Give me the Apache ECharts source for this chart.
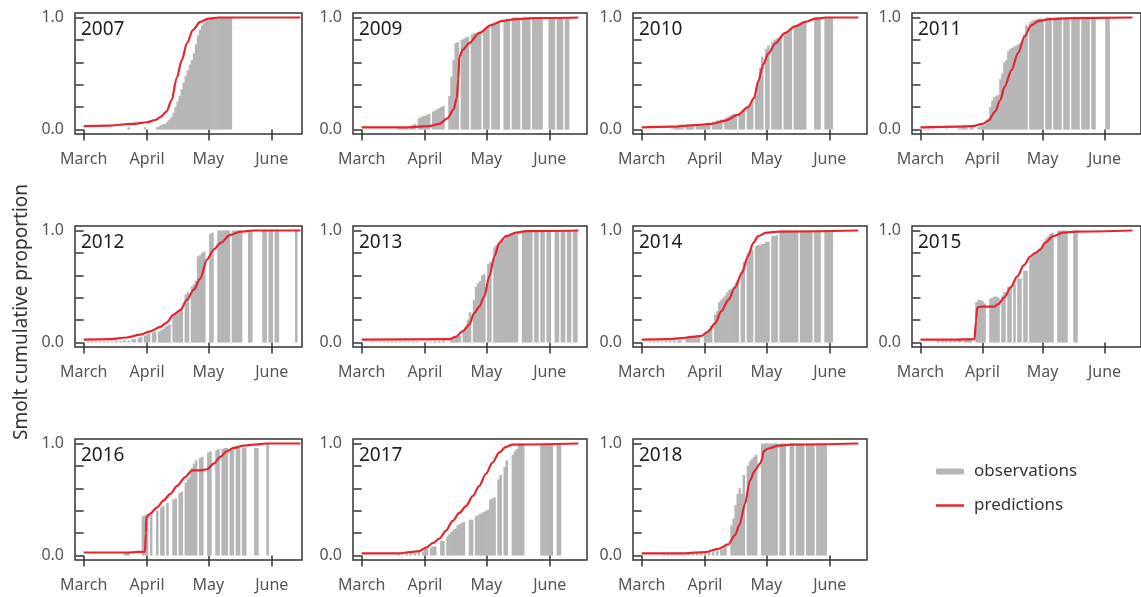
<!DOCTYPE html>
<html>
<head>
<meta charset="utf-8">
<title>Smolt cumulative proportion</title>
<script src="https://cdn.jsdelivr.net/npm/echarts@6.0.0/dist/echarts.min.js"></script>
<style>
  html, body { margin: 0; padding: 0; background: #fff; }
  #container { width: 1141px; height: 597px; }
</style>
</head>
<body>
<div id="container"></div>
<script>
  // x = days counted from 1 March (31 = 1 April, 61 = 1 May, 92 = 1 June)
  var monthDays = [0, 31, 61, 92];
  var monthLabels = ['March', 'April', 'May', 'June'];
  var yTicks = [0, 0.2, 0.4, 0.6, 0.8, 1];
  var yLabelValues = [0, 1];
  var years = [2007, 2009, 2010, 2011, 2012, 2013, 2014, 2015, 2016, 2017, 2018];

  // observations: [day, cumulative proportion]
  var obs2007 = [[22,0.02],[30,0.02],[36,0.02],[37,0.03],[38,0.04],[39,0.05],[40,0.05],[41,0.07],[42,0.09],[43,0.11],[44,0.15],[45,0.2],[46,0.25],[47,0.3],[48,0.36],[49,0.42],[50,0.48],[51,0.53],[52,0.58],[53,0.62],[54,0.68],[55,0.76],[56,0.84],[57,0.89],[58,0.93],[59,0.95],[60,0.97],[61,0.98],[62,0.99],[63,1],[64,1],[65,1],[66,1],[67,1],[68,1],[69,1],[70,1],[71,1],[72,1]];
  var obs2009 = [[18,0.01],[19,0.01],[20,0.015],[21,0.02],[22,0.02],[24,0.03],[25,0.04],[26,0.05],[28,0.1],[29,0.11],[30,0.12],[31,0.12],[32,0.13],[33,0.14],[35,0.16],[36,0.17],[37,0.18],[38,0.19],[39,0.2],[40,0.21],[43,0.3],[44,0.47],[45,0.62],[46,0.77],[47,0.78],[49,0.8],[50,0.81],[51,0.82],[52,0.83],[54,0.85],[55,0.86],[56,0.86],[57,0.87],[58,0.88],[60,0.9],[61,0.91],[62,0.92],[64,0.93],[65,0.94],[66,0.94],[67,0.95],[70,0.98],[71,0.99],[72,0.99],[74,1],[75,1],[76,1],[77,1],[79,1],[80,1],[81,1],[82,1],[84,1],[85,1],[86,1],[87,1],[88,1],[92,1],[93,1],[94,1],[96,1],[97,1],[98,1],[100,1],[101,1]];
  var obs2010 = [[15,0.01],[16,0.01],[17,0.02],[18,0.02],[19,0.02],[20,0.02],[22,0.03],[23,0.03],[24,0.03],[25,0.04],[27,0.04],[28,0.05],[29,0.05],[30,0.05],[31,0.05],[32,0.06],[33,0.06],[35,0.07],[36,0.07],[37,0.08],[38,0.08],[39,0.09],[41,0.1],[42,0.11],[43,0.12],[44,0.13],[45,0.14],[46,0.14],[48,0.15],[49,0.16],[50,0.17],[52,0.2],[53,0.22],[54,0.25],[56,0.3],[57,0.42],[58,0.55],[59,0.65],[61,0.72],[62,0.75],[64,0.78],[65,0.8],[66,0.81],[67,0.82],[68,0.83],[70,0.85],[71,0.87],[72,0.88],[73,0.9],[75,0.92],[76,0.93],[77,0.94],[78,0.95],[79,0.96],[80,0.96],[85,1],[86,1],[87,1],[90,1],[91,1],[92,1],[93,1]];
  var obs2011 = [[0,0.01],[2,0.01],[4,0.01],[6,0.01],[13,0.01],[19,0.01],[20,0.01],[21,0.02],[22,0.02],[23,0.02],[25,0.02],[26,0.02],[29,0.02],[30,0.03],[31,0.03],[32,0.04],[33,0.06],[34,0.1],[35,0.2],[36,0.26],[37,0.29],[38,0.3],[39,0.31],[40,0.45],[41,0.5],[42,0.6],[43,0.62],[44,0.7],[45,0.72],[46,0.73],[47,0.74],[48,0.75],[49,0.76],[50,0.77],[51,0.78],[52,0.85],[53,0.93],[55,0.96],[56,0.97],[57,0.98],[58,0.98],[59,0.99],[60,0.99],[61,0.99],[63,1],[64,1],[65,1],[67,1],[68,1],[69,1],[70,1],[72,1],[73,1],[74,1],[76,1],[77,1],[78,1],[79,1],[81,1],[82,1],[83,1],[84,1],[86,1],[87,1],[93,1],[94,1]];
  var obs2012 = [[2,0.01],[4,0.01],[6,0.01],[8,0.01],[10,0.01],[12,0.01],[14,0.01],[16,0.015],[18,0.015],[20,0.02],[22,0.02],[24,0.03],[25,0.03],[27,0.04],[28,0.05],[30,0.06],[31,0.07],[32,0.08],[34,0.09],[35,0.1],[37,0.1],[38,0.11],[39,0.12],[40,0.14],[41,0.15],[42,0.16],[44,0.25],[45,0.26],[46,0.27],[47,0.3],[48,0.31],[50,0.43],[51,0.45],[53,0.5],[54,0.52],[55,0.55],[56,0.77],[57,0.78],[58,0.8],[59,0.81],[62,0.97],[63,0.98],[66,1],[67,1],[68,1],[69,1],[70,1],[71,1],[73,1],[74,1],[75,1],[76,1],[77,1],[81,1],[82,1],[88,1],[89,1],[91,1],[92,1],[94,1],[95,1],[104,1]];
  var obs2013 = [[5,0.01],[7,0.01],[9,0.01],[11,0.01],[13,0.01],[15,0.01],[17,0.01],[19,0.01],[21,0.01],[23,0.01],[25,0.01],[27,0.01],[32,0.01],[34,0.01],[36,0.015],[38,0.015],[40,0.02],[44,0.03],[45,0.03],[46,0.04],[47,0.05],[48,0.06],[50,0.1],[51,0.14],[52,0.2],[53,0.27],[55,0.38],[56,0.5],[57,0.53],[58,0.55],[59,0.6],[60,0.61],[62,0.7],[63,0.72],[65,0.85],[66,0.87],[67,0.88],[68,0.9],[69,0.91],[70,0.92],[71,0.95],[72,0.95],[73,0.96],[74,0.96],[75,0.97],[76,0.97],[79,1],[80,1],[81,1],[82,1],[83,1],[85,1],[86,1],[88,1],[89,1],[91,1],[92,1],[95,1],[96,1],[98,1],[99,1],[101,1],[102,1],[104,1],[105,1]];
  var obs2014 = [[4,0.01],[6,0.01],[8,0.01],[10,0.01],[12,0.015],[14,0.015],[16,0.02],[18,0.02],[19,0.02],[22,0.05],[23,0.05],[24,0.05],[25,0.06],[26,0.06],[27,0.06],[28,0.06],[31,0.08],[32,0.1],[33,0.12],[34,0.15],[36,0.25],[37,0.28],[38,0.36],[39,0.38],[40,0.4],[41,0.42],[42,0.45],[43,0.47],[44,0.48],[45,0.5],[46,0.53],[47,0.55],[49,0.65],[50,0.72],[52,0.8],[53,0.82],[54,0.83],[56,0.86],[57,0.87],[58,0.87],[59,0.88],[60,0.88],[61,0.9],[62,0.9],[64,0.95],[65,0.95],[66,0.96],[68,1],[69,1],[70,1],[71,1],[72,1],[73,1],[74,1],[75,1],[76,1],[78,1],[79,1],[80,1],[81,1],[82,1],[83,1],[85,1],[86,1],[87,1],[90,1],[91,1],[92,1],[93,1]];
  var obs2015 = [[9,0.02],[11,0.02],[13,0.02],[15,0.02],[17,0.02],[19,0.03],[20,0.03],[22,0.03],[23,0.04],[24,0.04],[25,0.04],[28,0.36],[29,0.38],[30,0.38],[31,0.37],[32,0.35],[35,0.39],[36,0.4],[37,0.41],[38,0.41],[39,0.4],[41,0.42],[42,0.45],[44,0.5],[45,0.5],[47,0.52],[49,0.57],[50,0.57],[52,0.64],[53,0.64],[55,0.75],[56,0.77],[57,0.79],[58,0.8],[59,0.82],[60,0.84],[61,0.86],[62,0.9],[63,0.93],[64,0.95],[65,0.97],[66,0.98],[69,1],[70,1],[71,1],[72,1],[73,1],[77,1],[78,1]];
  var obs2016 = [[20,0.02],[21,0.03],[22,0.03],[29,0.35],[30,0.36],[31,0.37],[33,0.38],[36,0.4],[38,0.43],[39,0.44],[41,0.47],[44,0.5],[45,0.51],[47,0.56],[48,0.57],[50,0.65],[51,0.68],[52,0.7],[53,0.78],[54,0.82],[55,0.85],[57,0.87],[58,0.88],[61,0.92],[62,0.93],[65,0.94],[66,0.95],[68,0.95],[69,0.96],[70,0.96],[72,0.95],[73,0.95],[75,0.96],[76,0.96],[78,0.96],[79,0.96],[84,0.96],[85,0.96],[90,1]];
  var obs2017 = [[18,0.01],[20,0.01],[22,0.02],[24,0.02],[26,0.02],[28,0.03],[30,0.03],[31,0.06],[32,0.06],[34,0.07],[35,0.08],[36,0.08],[39,0.13],[40,0.13],[42,0.17],[43,0.19],[44,0.21],[45,0.23],[46,0.24],[47,0.27],[48,0.28],[49,0.29],[50,0.3],[53,0.32],[54,0.32],[56,0.35],[57,0.36],[58,0.37],[59,0.38],[60,0.39],[61,0.4],[62,0.41],[63,0.5],[64,0.51],[65,0.52],[67,0.68],[68,0.72],[70,0.79],[71,0.85],[74,0.9],[75,0.93],[76,0.95],[77,1],[78,1],[79,1],[88,1],[89,1],[90,1],[91,1],[92,1],[93,1],[96,1],[97,1]];
  var obs2018 = [[11,0.01],[13,0.01],[15,0.01],[17,0.01],[19,0.01],[21,0.01],[23,0.02],[25,0.02],[27,0.02],[29,0.02],[31,0.02],[33,0.03],[35,0.03],[37,0.04],[39,0.05],[40,0.06],[41,0.08],[44,0.27],[45,0.33],[46,0.45],[47,0.55],[48,0.6],[49,0.55],[50,0.72],[52,0.8],[53,0.84],[54,0.86],[55,0.88],[56,0.9],[59,1],[60,1],[61,1],[62,1],[63,1],[64,1],[65,1],[66,1],[68,1],[69,1],[70,1],[73,1],[74,1],[76,1],[77,1],[78,1],[79,1],[81,1],[82,1],[83,1],[84,1],[86,1],[87,1],[88,1],[89,1],[90,1]];

  // predictions: [day, cumulative proportion]
  var pred2007 = [[0,0.03],[12,0.035],[24,0.05],[31,0.065],[35,0.085],[37.5,0.11],[40.5,0.16],[43,0.26],[45.5,0.46],[48,0.62],[50.5,0.77],[53.5,0.89],[57,0.96],[61,0.99],[66,1],[106,1]];
  var pred2009 = [[0,0.02],[23,0.02],[33,0.03],[38,0.05],[42,0.1],[45,0.18],[46.5,0.28],[47.3,0.45],[47.8,0.65],[49.4,0.71],[52.5,0.77],[57.5,0.86],[63,0.93],[69,0.97],[75.5,0.985],[84,0.995],[106,1]];
  var pred2010 = [[0,0.02],[15,0.025],[26,0.04],[34,0.05],[41,0.08],[47,0.13],[52,0.2],[55,0.28],[57,0.43],[59.5,0.58],[62,0.68],[65.5,0.77],[70,0.86],[75,0.92],[80,0.96],[85,0.99],[90,1],[106,1]];
  var pred2011 = [[0,0.02],[19,0.025],[26,0.03],[31,0.05],[34,0.08],[37.3,0.16],[39.8,0.26],[42,0.38],[45.5,0.53],[48.7,0.68],[52,0.83],[55.3,0.93],[59.3,0.97],[65,0.985],[75,0.995],[106,1]];
  var pred2012 = [[0,0.025],[13,0.03],[21,0.045],[27.7,0.07],[32.6,0.1],[37.5,0.14],[40.7,0.18],[44,0.25],[47.3,0.29],[50.5,0.38],[53.8,0.47],[57,0.57],[60.3,0.74],[63.6,0.83],[67,0.89],[71.7,0.96],[76.6,0.99],[83,1],[106,1]];
  var pred2013 = [[0,0.025],[43,0.03],[46,0.05],[49.4,0.1],[52.6,0.16],[55,0.26],[57.5,0.32],[60,0.41],[62.4,0.59],[65,0.77],[67.3,0.89],[70.6,0.95],[75.5,0.98],[80.4,0.995],[106,1]];
  var pred2014 = [[0,0.025],[13,0.03],[19.6,0.04],[24.4,0.05],[29.3,0.06],[32.6,0.1],[35.9,0.17],[39,0.28],[42.4,0.38],[45.6,0.49],[49,0.62],[52,0.77],[54.6,0.89],[57,0.95],[61,0.98],[66.8,0.99],[106,1]];
  var pred2015 = [[0,0.025],[16,0.025],[27,0.03],[27.8,0.2],[28.3,0.31],[30,0.32],[37,0.32],[38.6,0.34],[41.9,0.4],[45,0.49],[48.4,0.59],[51.7,0.69],[55,0.77],[57.4,0.8],[59.8,0.83],[62.3,0.89],[66.3,0.95],[71.2,0.98],[77.8,0.99],[106,1]];
  var pred2016 = [[0,0.027],[21,0.027],[30,0.035],[30.4,0.2],[30.7,0.34],[32.6,0.375],[35.9,0.43],[39,0.49],[42.4,0.55],[45.6,0.62],[49.7,0.7],[53,0.76],[57,0.76],[60.3,0.77],[63.6,0.82],[66.8,0.88],[70,0.93],[73.3,0.96],[78.2,0.98],[83,0.99],[89.6,1],[106,1]];
  var pred2017 = [[0,0.02],[18.4,0.02],[23.3,0.03],[28.2,0.04],[31.5,0.07],[34.7,0.11],[38,0.15],[41.2,0.22],[44.5,0.31],[47.8,0.38],[51,0.44],[54.3,0.53],[57.5,0.62],[60.8,0.73],[64,0.83],[67.3,0.92],[70.6,0.97],[73.8,0.99],[106,1]];
  var pred2018 = [[0,0.02],[21,0.02],[31,0.03],[37.5,0.06],[42.4,0.1],[45.6,0.18],[48,0.28],[50.5,0.46],[53,0.67],[55.4,0.76],[57.9,0.82],[59,0.86],[59.5,0.93],[62,0.955],[66.8,0.98],[73.3,0.99],[106,1]];

  var obsByYear = {2007: obs2007, 2009: obs2009, 2010: obs2010, 2011: obs2011, 2012: obs2012, 2013: obs2013,
                   2014: obs2014, 2015: obs2015, 2016: obs2016, 2017: obs2017, 2018: obs2018};
  var predByYear = {2007: pred2007, 2009: pred2009, 2010: pred2010, 2011: pred2011, 2012: pred2012, 2013: pred2013,
                    2014: pred2014, 2015: pred2015, 2016: pred2016, 2017: pred2017, 2018: pred2018};

  var dom = document.getElementById("container");
  var myChart = echarts.init(dom);
  var FONT = "'Noto Sans', 'DejaVu Sans', sans-serif";

  // panel layout (px)
  var colLeft = [75, 353, 633, 912];
  var rowTop = [13, 226, 439];
  var panelW = 234, panelH = 121;

  var grid = [], xAxis = [], yAxis = [], series = [], title = [];

  years.forEach(function (yr, i) {
      var col = i % 4, row = Math.floor(i / 4);
      // first column is cropped on the right in the original figure
      var w = col === 0 ? 227 : panelW;
      grid.push({
          left: colLeft[col], top: rowTop[row], width: w, height: panelH,
          show: true, borderColor: '#333', borderWidth: 1.5, backgroundColor: 'transparent'
      });
      xAxis.push({
          gridIndex: i, type: 'value',
          min: -4.24, max: col === 0 ? 106.8 : 110.24,
          axisLine: { show: false },
          splitLine: { show: false },
          axisTick: { customValues: monthDays, length: 11, lineStyle: { color: '#333', width: 1.5 } },
          axisLabel: {
              customValues: monthDays, margin: 17, fontSize: 16, color: '#555', fontFamily: FONT,
              formatter: function (v) { return monthLabels[monthDays.indexOf(v)]; }
          }
      });
      yAxis.push({
          gridIndex: i, type: 'value', min: -0.04, max: 1.04,
          axisLine: { show: false },
          splitLine: { show: false },
          axisTick: { customValues: yTicks, length: 8, lineStyle: { color: '#333', width: 1.5 } },
          axisLabel: {
              customValues: yLabelValues, margin: 11, fontSize: 16, color: '#555', fontFamily: FONT,
              formatter: function (v) { return v.toFixed(1); }
          }
      });
      title.push({
          text: String(yr), left: colLeft[col] + 6, top: rowTop[row] + 7, padding: 0,
          textStyle: { fontSize: 19, fontWeight: 'normal', color: '#1e1e1e', fontFamily: FONT }
      });
      series.push({
          name: 'observations', type: 'bar', xAxisIndex: i, yAxisIndex: i,
          barWidth: 2.6, data: obsByYear[yr],
          itemStyle: { color: '#b5b5b5' },
          silent: true
      });
      series.push({
          name: 'predictions', type: 'line', xAxisIndex: i, yAxisIndex: i,
          data: predByYear[yr], showSymbol: false, symbol: 'none',
          smooth: 0.3, smoothMonotone: 'x',
          lineStyle: { color: '#e3262d', width: 2.2 },
          itemStyle: { color: '#e3262d' },
          silent: true
      });
  });

  option = {
      animation: false,
      textStyle: { fontFamily: FONT },
      title: title,
      grid: grid,
      xAxis: xAxis,
      yAxis: yAxis,
      legend: [{
          data: ['observations'], orient: 'vertical', left: 936, top: 463, padding: 0,
          itemWidth: 28, itemHeight: 6, icon: 'roundRect', selectedMode: false,
          textStyle: { fontSize: 17, color: '#333', fontFamily: FONT, padding: [0, 0, 0, 5] }
      }, {
          data: ['predictions'], orient: 'vertical', left: 936, top: 497, padding: 0,
          itemWidth: 28, itemHeight: 2.5, icon: 'rect', selectedMode: false,
          textStyle: { fontSize: 17, color: '#333', fontFamily: FONT, padding: [0, 0, 0, 5] }
      }],
      graphic: [{
          type: 'text', x: 22, y: 312, rotation: Math.PI / 2,
          style: {
              text: 'Smolt cumulative proportion', fontSize: 19, fontFamily: FONT, fill: '#333',
              align: 'center', verticalAlign: 'middle', textAlign: 'center', textVerticalAlign: 'middle'
          }
      }],
      series: series
  };
  if (option && typeof option === "object") {
      myChart.setOption(option, true);
  }
</script>
</body>
</html>
